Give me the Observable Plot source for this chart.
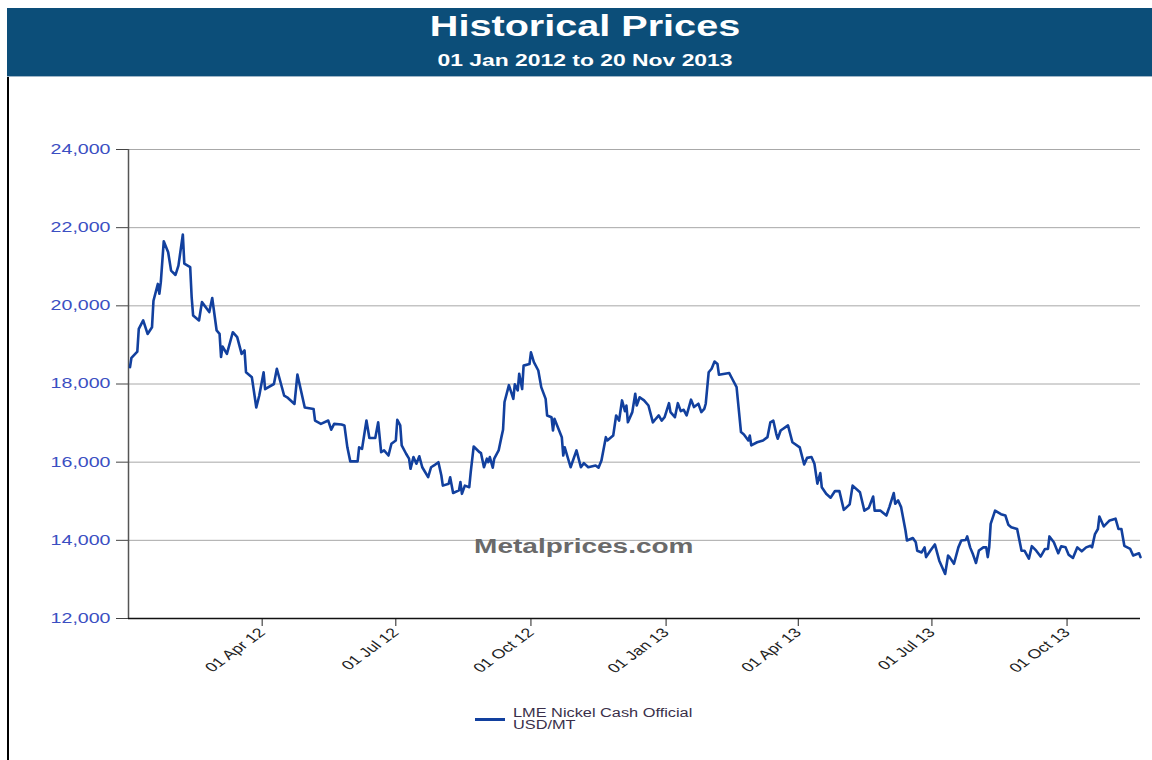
<!DOCTYPE html>
<html>
<head>
<meta charset="utf-8">
<script src="https://cdn.jsdelivr.net/npm/d3@7"></script>
<script src="https://cdn.jsdelivr.net/npm/@observablehq/plot@0.6"></script>
<style>
  html, body { margin: 0; padding: 0; background: #fff; }
  body { width: 1152px; height: 760px; position: relative; overflow: hidden; font-family: "Liberation Sans", Arial, sans-serif; }
  #banner { position: absolute; left: 7px; top: 8px; width: 1145px; height: 68px; background: #0c4e79; color: #fff; text-align: center; border-bottom: 1px solid #9fb6c8; }
  #banner .t { position: absolute; left: 11px; right: 0; top: 1px; font-size: 30px; font-weight: bold; transform: scaleX(1.32); transform-origin: 50% 0; }
  #banner .s { position: absolute; left: 11px; right: 0; top: 44px; font-size: 16px; font-weight: bold; transform: scaleX(1.43); transform-origin: 50% 0; }
  #border { position: absolute; left: 7px; top: 77px; width: 2px; height: 683px; background: #000; }
  #chart { position: absolute; left: 0; top: 77px; }
  #legend { position: absolute; left: 475px; top: 707px; font-size: 12px; color: #3a2f4a; }
  #legend .sw { position: absolute; left: 0; top: 11px; width: 30px; height: 3px; background: #12409e; }
  #legend .tx { position: absolute; left: 38px; top: 0; white-space: nowrap; line-height: 12px; transform: scaleX(1.36); transform-origin: 0 0; }
</style>
</head>
<body>
<div id="banner"><div class="t">Historical Prices</div><div class="s">01 Jan 2012 to 20 Nov 2013</div></div>
<div id="border"></div>
<div id="chart"></div>
<div id="legend"><div class="sw"></div><div class="tx">LME Nickel Cash Official<br>USD/MT</div></div>
<script>
const dates = [
"2012-01-02","2012-01-03","2012-01-07","2012-01-08","2012-01-11","2012-01-14","2012-01-17","2012-01-18","2012-01-21","2012-01-22",
"2012-01-23","2012-01-25","2012-01-28","2012-01-30","2012-02-02","2012-02-04","2012-02-07","2012-02-08","2012-02-12","2012-02-13",
"2012-02-14","2012-02-18","2012-02-20","2012-02-25","2012-02-27","2012-03-01","2012-03-03","2012-03-04","2012-03-05","2012-03-08",
"2012-03-12","2012-03-15","2012-03-18","2012-03-20","2012-03-21","2012-03-25","2012-03-28","2012-03-30","2012-04-02","2012-04-03",
"2012-04-09","2012-04-11","2012-04-16","2012-04-18","2012-04-23","2012-04-25","2012-04-30","2012-05-06","2012-05-07","2012-05-11",
"2012-05-16","2012-05-18","2012-05-20","2012-05-25","2012-05-27","2012-05-29","2012-05-31","2012-06-05","2012-06-06","2012-06-08",
"2012-06-11","2012-06-13","2012-06-17","2012-06-19","2012-06-21","2012-06-23","2012-06-26","2012-06-28","2012-07-01","2012-07-02",
"2012-07-04","2012-07-05","2012-07-08","2012-07-10","2012-07-11","2012-07-13","2012-07-15","2012-07-17","2012-07-19","2012-07-23",
"2012-07-25","2012-07-27","2012-07-30","2012-08-01","2012-08-02","2012-08-06","2012-08-07","2012-08-09","2012-08-13","2012-08-14",
"2012-08-15","2012-08-17","2012-08-20","2012-08-21","2012-08-23","2012-08-27","2012-08-28","2012-08-30","2012-09-01","2012-09-02",
"2012-09-03","2012-09-05","2012-09-06","2012-09-09","2012-09-11","2012-09-12","2012-09-13","2012-09-16","2012-09-19","2012-09-20",
"2012-09-22","2012-09-23","2012-09-25","2012-09-26","2012-09-30","2012-10-01","2012-10-03","2012-10-06","2012-10-08","2012-10-11",
"2012-10-12","2012-10-15","2012-10-16","2012-10-17","2012-10-22","2012-10-23","2012-10-24","2012-10-28","2012-11-01","2012-11-04",
"2012-11-06","2012-11-09","2012-11-14","2012-11-16","2012-11-18","2012-11-21","2012-11-22","2012-11-26","2012-11-28","2012-11-30",
"2012-12-02","2012-12-04","2012-12-05","2012-12-06","2012-12-09","2012-12-11","2012-12-12","2012-12-14","2012-12-17","2012-12-20",
"2012-12-23","2012-12-25","2012-12-27","2012-12-29","2012-12-31","2013-01-03","2013-01-04","2013-01-07","2013-01-09","2013-01-11",
"2013-01-13","2013-01-15","2013-01-18","2013-01-20","2013-01-23","2013-01-25","2013-01-27","2013-01-28","2013-01-30","2013-02-01",
"2013-02-03","2013-02-05","2013-02-06","2013-02-10","2013-02-13","2013-02-15","2013-02-18","2013-02-21","2013-02-23","2013-02-26",
"2013-02-27","2013-02-28","2013-03-04","2013-03-08","2013-03-11","2013-03-13","2013-03-15","2013-03-17","2013-03-18","2013-03-20",
"2013-03-25","2013-03-28","2013-04-02","2013-04-05","2013-04-07","2013-04-10","2013-04-12","2013-04-14","2013-04-16","2013-04-17",
"2013-04-20","2013-04-23","2013-04-26","2013-04-29","2013-05-02","2013-05-06","2013-05-08","2013-05-13","2013-05-16","2013-05-19",
"2013-05-22","2013-05-23","2013-05-27","2013-05-31","2013-06-02","2013-06-05","2013-06-06","2013-06-08","2013-06-10","2013-06-13",
"2013-06-14","2013-06-18","2013-06-20","2013-06-21","2013-06-24","2013-06-26","2013-06-27","2013-06-30","2013-07-03","2013-07-06",
"2013-07-10","2013-07-12","2013-07-13","2013-07-16","2013-07-19","2013-07-21","2013-07-24","2013-07-25","2013-07-27","2013-07-29",
"2013-07-31","2013-08-02","2013-08-05","2013-08-07","2013-08-08","2013-08-09","2013-08-10","2013-08-13","2013-08-17","2013-08-20",
"2013-08-22","2013-08-24","2013-08-28","2013-08-31","2013-09-02","2013-09-05","2013-09-07","2013-09-10","2013-09-13","2013-09-16",
"2013-09-18","2013-09-19","2013-09-22","2013-09-25","2013-09-27","2013-09-30","2013-10-02","2013-10-05","2013-10-08","2013-10-11",
"2013-10-14","2013-10-17","2013-10-18","2013-10-20","2013-10-22","2013-10-23","2013-10-26","2013-10-30","2013-11-03","2013-11-05",
"2013-11-07","2013-11-09","2013-11-13","2013-11-15","2013-11-19","2013-11-20"
];
const prices = [
18430,18670,18830,19410,19630,19280,19450,20130,20560,20310,
20605,21650,21370,20900,20790,21030,21825,21080,20990,20220,
19750,19625,20095,19840,20200,19370,19285,18690,18960,18770,
19325,19200,18770,18860,18300,18170,17400,17700,18300,17870,
18000,18390,17700,17660,17490,18240,17400,17360,17065,16980,
17065,16830,16980,16965,16940,16380,16020,16020,16380,16340,
17065,16620,16620,17020,16255,16300,16170,16470,16555,17085,
16940,16430,16215,16090,15830,16130,15960,16150,15870,15615,
15870,15915,16000,15660,15400,15450,15615,15210,15280,15490,
15190,15400,15360,15745,16400,16255,16230,15870,16090,16000,
16130,15860,16090,16300,16660,16830,17540,17970,17620,17990,
17835,18260,17870,18470,18510,18810,18560,18345,17920,17620,
17195,17150,16810,17110,16640,16170,16380,15870,16300,15870,
15975,15870,15915,15860,16040,16640,16555,16680,17195,17065,
17580,17305,17450,17020,17280,17750,17450,17660,17580,17450,
17020,17110,17195,17065,17150,17510,17280,17150,17510,17305,
17340,17195,17600,17410,17495,17280,17365,17495,18300,18390,
18575,18510,18235,18260,18280,18135,17920,16770,16710,16555,
16680,16430,16510,16555,16640,17020,17065,16725,16600,16810,
16940,16510,16380,15940,16110,16130,15960,15450,15720,15360,
15190,15090,15260,15260,14780,14920,15400,15230,14760,14830,
15120,14760,14760,14635,14850,15210,14935,15020,14850,14250,
13995,14060,13950,13735,13690,13820,13570,13740,13895,13480,
13140,13610,13570,13400,13820,13995,14010,14100,13820,13635,
13420,13740,13820,13820,13570,13820,14420,14760,14670,14635,
14400,14335,14290,13735,13735,13530,13850,13735,13585,13780,
13780,14100,13950,13670,13850,13820,13635,13550,13820,13720,
13820,13860,13820,14160,14290,14610,14355,14510,14555,14290,
14290,13860,13780,13610,13670,13570
];
const yTicks = [12000, 14000, 16000, 18000, 20000, 22000, 24000];
const xTickDates = ["2012-04-01","2012-07-01","2012-10-01","2013-01-01","2013-04-01","2013-07-01","2013-10-01"];
const xDomain = ["2012-01-01", "2013-11-20"];
const watermark = "Metalprices.com";
const watermarkAt = {date: "2012-11-06", price: 13850};

const data = dates.map((d, i) => ({date: new Date(d), price: prices[i]}));
const xt = xTickDates.map(d => new Date(d));
const fmtDate = d3.utcFormat("%d %b %y");

const chart = Plot.plot({
  width: 1152,
  height: 610,
  marginTop: 72,
  marginBottom: 69,
  marginLeft: 128,
  marginRight: 12,
  style: {fontFamily: "'Liberation Sans', Arial, sans-serif", background: "transparent", overflow: "visible"},
  x: {type: "utc", domain: xDomain.map(d => new Date(d))},
  y: {domain: [12000, 24000]},
  marks: [
    Plot.ruleY(yTicks.slice(1), {stroke: "#a8a8a8", strokeWidth: 1}),
    Plot.axisY({ticks: yTicks, tickFormat: d3.format(","), tickSize: 12, tickPadding: 6, fontSize: 14, fill: "#3b4fc2", stroke: "#444", label: null, strokeOpacity: 1}),
    Plot.axisX({ticks: xt, tickFormat: fmtDate, tickRotate: -45, tickSize: 8, tickPadding: 4, fontSize: 13, fill: "#222", stroke: "#222", label: null}),
    Plot.ruleX([new Date(xDomain[0])], {stroke: "#555", strokeWidth: 1.5}),
    Plot.ruleY([12000], {stroke: "#111", strokeWidth: 1.5}),
    Plot.text([watermarkAt], {x: d => new Date(d.date), y: "price", text: () => watermark, fontSize: 20, fontWeight: "bold", fill: "#6a6a6a", textAnchor: "middle"}),
    Plot.line(data, {x: "date", y: "price", stroke: "#12409e", strokeWidth: 2.6, strokeLinejoin: "round"})
  ]
});

// horizontal stretch of the text glyphs, as in the reference picture
function stretchEl(t, sx) {
  let tr = t.getAttribute("transform");
  if (tr && tr.includes("translate(")) {
    tr = tr.replace(/translate\([^)]*\)/, m => m + ` scale(${sx},1)`);
    t.setAttribute("transform", tr);
  } else {
    const x = +t.getAttribute("x") || 0, y = +t.getAttribute("y") || 0;
    t.setAttribute("x", 0); t.setAttribute("y", 0);
    t.setAttribute("transform", `translate(${x},${y}) scale(${sx},1)` + (tr ? " " + tr : ""));
  }
}
chart.querySelectorAll('g[aria-label="y-axis tick label"] text').forEach(t => stretchEl(t, 1.4));
chart.querySelectorAll('g[aria-label="x-axis tick label"] text').forEach(t => stretchEl(t, 1.37));
chart.querySelectorAll('text').forEach(t => { if (t.textContent === watermark) stretchEl(t, 1.4); });
document.getElementById("chart").appendChild(chart);
</script>
</body>
</html>
